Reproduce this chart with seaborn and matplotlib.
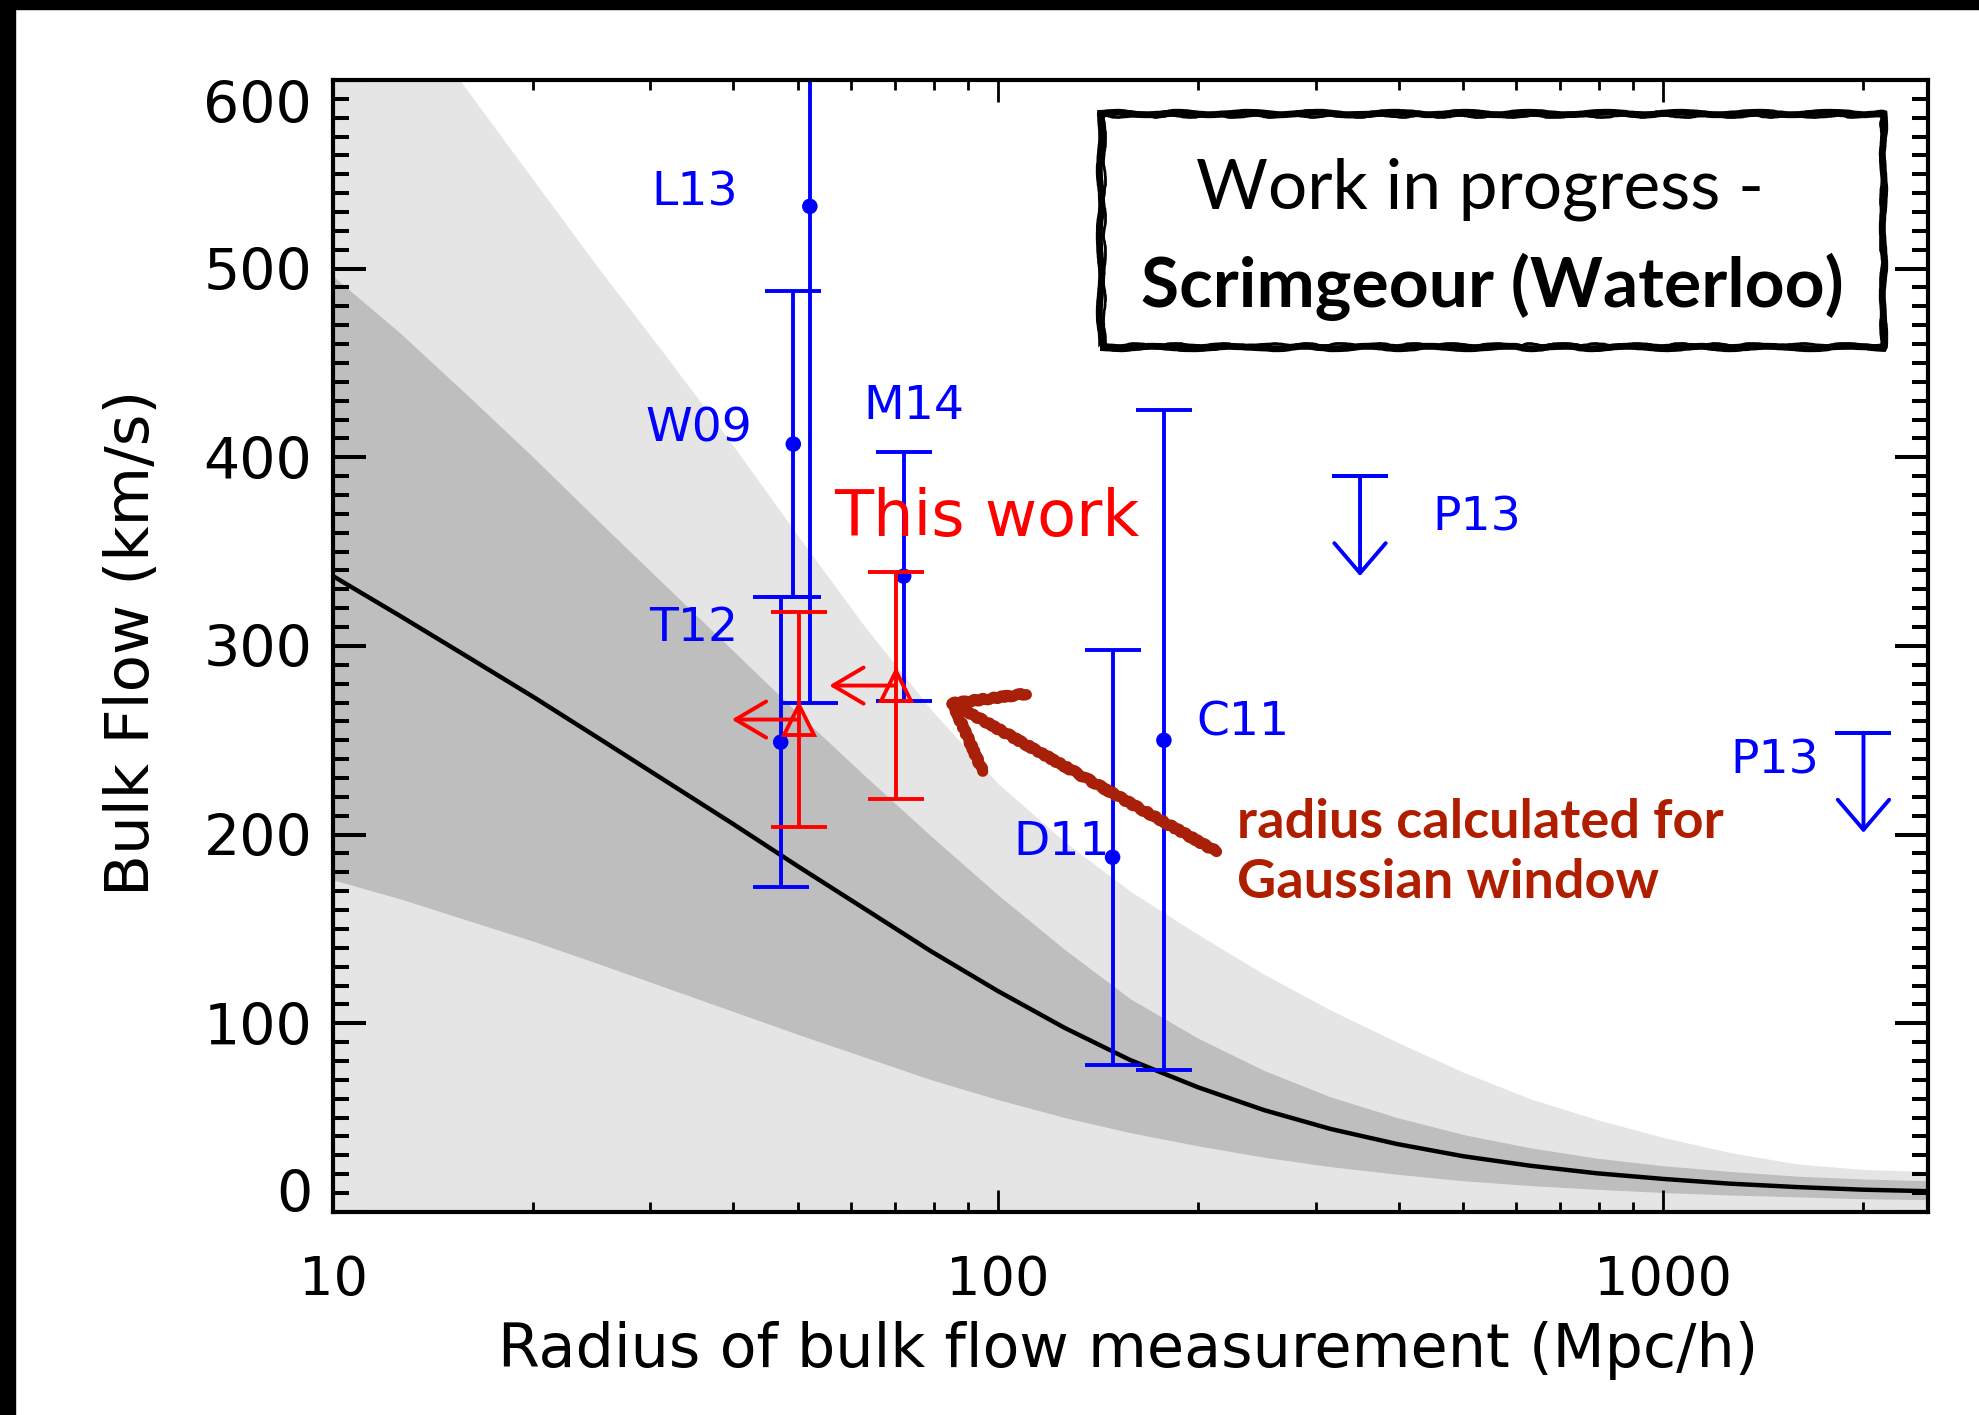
import matplotlib
matplotlib.use("Agg")
import matplotlib.pyplot as plt
from matplotlib import font_manager
from matplotlib.patches import Rectangle
from matplotlib.ticker import FixedLocator, LogLocator, NullFormatter, FuncFormatter, MultipleLocator
import pandas as pd
import seaborn as sns

# ---------------------------------------------------------------- data
# expected bulk flow (km/s) as a function of radius (Mpc/h)
radius = [10, 12.6, 15.8, 20, 25.1, 31.6, 39.8, 50.1, 63.1, 79.4, 100, 126, 158,
          200, 251, 316, 398, 501, 631, 794, 1000, 1259, 1585, 1995, 2500]
flow_mean = [337, 316, 295, 273, 251, 228.5, 206, 183, 160.5, 138, 117, 97.5, 80.5,
             66, 54, 44, 36, 29.5, 24.5, 20.5, 17.5, 15, 13.2, 11.8, 11]
flow_1sig_lo = [176, 166, 155, 143.5, 131.5, 119, 106.5, 94, 82, 70, 59.5, 50, 42,
                35, 29, 24, 20, 16.5, 14, 12, 10.3, 9, 8, 7, 6.5]
flow_1sig_hi = [496, 466, 434, 400, 366, 332, 298, 264, 231, 199, 168, 139, 113,
                92, 75, 61, 50, 41, 34, 28.5, 24.5, 21.5, 19, 17.5, 16.5]
flow_2sig_lo = [0] * len(radius)
flow_2sig_hi = [690, 645, 596, 547, 500, 454, 407, 358, 310, 266, 227, 196, 170,
                147, 126, 107, 90, 74, 60, 49, 39.5, 31.5, 25.5, 22.5, 21.5]

# published bulk-flow measurements
survey_names = ["T12", "W09", "L13", "M14", "D11", "C11"]
survey_radius = [47.1, 49.2, 52.1, 72.1, 148.6, 177.5]
survey_flow = [249, 407, 533, 337, 188, 250]
survey_err = [77, 81, 263, 66, 110, 175]

# upper limits
limit_names = ["P13", "P13"]
limit_radius = [350, 2000]
limit_flow = [390, 254]

# this work (radius is an upper bound for the Gaussian window)
this_work_radius = [50.1, 70.2]
this_work_flow = [261, 279]
this_work_err = [57, 60]

# ---------------------------------------------------------------- style
sns.set_style("white")
plt.rcParams.update({
    "font.family": ["DejaVu Sans"],
    "text.color": "black",
    "axes.labelcolor": "black",
    "xtick.color": "black",
    "ytick.color": "black",
    "axes.edgecolor": "black",
})

available = {f.name for f in font_manager.fontManager.ttflist}


def pick(*names):
    for n in names:
        if n in available:
            return n
    return "DejaVu Sans"


box_font = pick("Lato", "Open Sans", "Noto Sans")
BLUE = "#0000ff"
RED = "#ff0000"
BRUSH = "#a8200a"
NOTE = "#b01e00"
LW = 2.8

fig = plt.figure(figsize=(19.79, 14.15), dpi=100)
fig.patch.set_facecolor("white")
ax = fig.add_axes([0.1683, 0.1435, 0.8059, 0.8])
ax.set_facecolor("white")
ax.set_axisbelow(False)
ax.set_xscale("log")

# shaded bands
ax.fill_between(radius, flow_2sig_lo, flow_2sig_hi, color="#e5e5e5", lw=0, zorder=1)
ax.fill_between(radius, flow_1sig_lo, flow_1sig_hi, color="#bebebe", lw=0, zorder=1.2)

# expectation curve
curve = pd.DataFrame({"radius": radius, "flow": flow_mean})
sns.lineplot(data=curve, x="radius", y="flow", color="black", lw=3.2,
             estimator=None, sort=False, ax=ax, zorder=1.5)

# published measurements
ax.errorbar(survey_radius, survey_flow, yerr=survey_err, fmt="none", ecolor=BLUE,
            elinewidth=LW, capsize=20, capthick=LW, zorder=4)
sns.scatterplot(x=survey_radius, y=survey_flow, color=BLUE, s=125,
                edgecolor="none", ax=ax, zorder=5)

label_pos = {"T12": (34.8, 309), "W09": (35.5, 415), "L13": (35.0, 540),
             "M14": (74.8, 427), "D11": (124.6, 196), "C11": (233.5, 259)}
for name in survey_names:
    lx, ly = label_pos[name]
    ax.text(lx, ly, name, color=BLUE, fontsize=34, ha="center", va="center", zorder=6)

# upper limits with downward arrows
ARROW_DOWN = 53
ax.errorbar(limit_radius, limit_flow, yerr=0, fmt="none", ecolor=BLUE,
            elinewidth=LW, capsize=20, capthick=LW, zorder=4)
for r, f in zip(limit_radius, limit_flow):
    ax.annotate("", xy=(r, f - ARROW_DOWN), xytext=(r, f),
                arrowprops=dict(arrowstyle="->,head_length=21.6,head_width=18.5",
                                mutation_scale=1, color=BLUE, lw=LW,
                                shrinkA=0, shrinkB=0), zorder=4)
limit_label_pos = [(524, 368), (1472, 239)]
for name, (lx, ly) in zip(limit_names, limit_label_pos):
    ax.text(lx, ly, name, color=BLUE, fontsize=34, ha="center", va="center", zorder=6)

# this work
ax.errorbar(this_work_radius, this_work_flow, yerr=this_work_err, fmt="none",
            ecolor=RED, elinewidth=LW, capsize=20, capthick=LW, zorder=7)
ax.plot(this_work_radius, this_work_flow, ls="none", marker="^", ms=21,
        mfc="none", mec=RED, mew=2.8, zorder=8)
RADIUS_SHIFT = 1.26
for r, f in zip(this_work_radius, this_work_flow):
    ax.annotate("", xy=(r / RADIUS_SHIFT, f), xytext=(r, f),
                arrowprops=dict(arrowstyle="->,head_length=22,head_width=13",
                                mutation_scale=1, color=RED, lw=LW,
                                shrinkA=0, shrinkB=0), zorder=8)
ax.text(96.2, 368, "This work", color=RED, fontsize=46,
        ha="center", va="center", zorder=8)

# annotation with brush-style arrow
arrow = ax.annotate("", xy=(83, 272), xytext=(213, 191),
                    arrowprops=dict(arrowstyle="->,head_length=43,head_width=32",
                                    mutation_scale=1, color=BRUSH, lw=8,
                                    shrinkA=0, shrinkB=0), zorder=9)
arrow.arrow_patch.set_sketch_params(scale=1.0, length=12, randomness=4)
ax.text(229, 198, "radius calculated for", color=NOTE, fontsize=39,
        fontweight="bold", family=box_font, ha="left", va="baseline", zorder=9)
ax.text(229, 166.5, "Gaussian window", color=NOTE, fontsize=39,
        fontweight="bold", family=box_font, ha="left", va="baseline", zorder=9)

# "work in progress" box with a rough brushed frame
box = Rectangle((0.481, 0.7637), 0.491, 0.207, transform=ax.transAxes,
                facecolor="white", edgecolor="black", lw=5, zorder=10)
box.set_sketch_params(scale=1.2, length=120, randomness=6)
ax.add_patch(box)
box2 = Rectangle((0.4835, 0.7665), 0.487, 0.2015, transform=ax.transAxes,
                 facecolor="none", edgecolor="black", lw=2.0, zorder=10)
box2.set_sketch_params(scale=1.0, length=80, randomness=8)
ax.add_patch(box2)
ax.text(0.7194, 0.8867, "Work in progress -", transform=ax.transAxes, color="black",
        fontsize=50, family=box_font, ha="center", va="baseline", zorder=11)
ax.text(0.7266, 0.7991, "Scrimgeour (Waterloo)", transform=ax.transAxes,
        color="black", fontsize=50, fontweight="bold", family=box_font,
        ha="center", va="baseline", zorder=11)

# ---------------------------------------------------------------- axes
ax.set_xlim(10, 2500)
ax.set_ylim(0, 600)
ax.xaxis.set_major_locator(LogLocator(base=10))
ax.xaxis.set_minor_locator(LogLocator(base=10, subs=range(2, 10)))
ax.xaxis.set_major_formatter(FuncFormatter(lambda v, p: f"{v:g}"))
ax.xaxis.set_minor_formatter(NullFormatter())
ax.yaxis.set_major_locator(FixedLocator([0, 100, 200, 300, 400, 500, 600]))
ax.yaxis.set_minor_locator(MultipleLocator(10))

ax.tick_params(axis="x", which="major", direction="in", length=16, width=2.0,
               top=True, bottom=True, labelsize=39, pad=30)
ax.tick_params(axis="x", which="minor", direction="in", length=7.5, width=2.0,
               top=True, bottom=True)
ax.tick_params(axis="y", which="major", direction="in", length=23.5, width=2.9,
               left=True, right=True, labelsize=41, pad=15)
ax.tick_params(axis="y", which="minor", direction="in", length=11.5, width=2.9,
               left=True, right=True)
for s in ax.spines.values():
    s.set_linewidth(3.0)
    s.set_color("black")
    s.set_zorder(12)

yt = ax.yaxis.get_major_ticks()
yt[0].label1.set_va("baseline")
yt[-1].label1.set_va("top")

ax.set_xlabel("Radius of bulk flow measurement (Mpc/h)", fontsize=43.5)
ax.xaxis.set_label_coords(0.4984, -0.1226)
ax.xaxis.label.set_va("center")
ax.set_ylabel("Bulk Flow (km/s)", fontsize=44)
ax.yaxis.set_label_coords(-0.126, 0.503)
ax.yaxis.label.set_va("center")

# dark frame edges
fig.patches.append(Rectangle((0, 1 - 9 / 1415), 1, 9 / 1415, transform=fig.transFigure,
                             color="black", zorder=20))
fig.patches.append(Rectangle((0, 0), 15 / 1979, 1, transform=fig.transFigure,
                             color="black", zorder=20))

fig.savefig("out.png", dpi=100, facecolor="white")
